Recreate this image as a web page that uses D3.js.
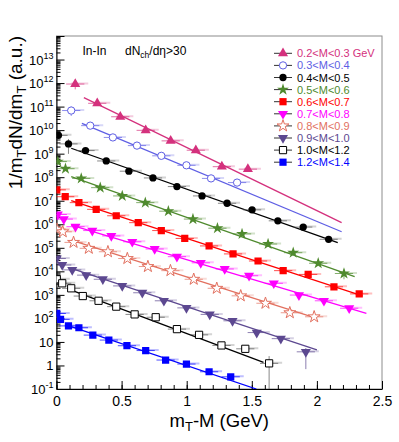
<!DOCTYPE html>
<html>
<head>
<meta charset="utf-8">
<script src="https://cdn.jsdelivr.net/npm/d3@7"></script>
<style>
  html, body { margin: 0; padding: 0; background: #fff; }
  svg { display: block; font-family: "Liberation Sans", Arial, Helvetica, sans-serif; }
</style>
</head>
<body>
<svg id="chart" width="399" height="442"></svg>
<script>
// ---------------- DATA ----------------
const seriesNames = ["0.2<M<0.3 GeV","0.3<M<0.4","0.4<M<0.5","0.5<M<0.6","0.6<M<0.7",
                     "0.7<M<0.8","0.8<M<0.9","0.9<M<1.0","1.0<M<1.2","1.2<M<1.4"];

const x_s1 = [0.144,0.313,0.49,0.685,0.877,1.07,1.27,1.47];
const y_s1 = [9.1e11,1.38e11,3.7e10,9.8e9,3.5e9,1.4e9,2.8e8,2.2e8];

const x_s2 = [0.113,0.259,0.433,0.618,0.805,0.998,1.187,1.387];
const y_s2 = [6.8e10,1.55e10,4.9e9,2.2e9,8.1e8,3.2e8,8.9e7,5.9e7];

const x_s3 = [0.015,0.092,0.223,0.382,0.556,0.741,0.925,1.118,1.31,1.502,1.70,1.895,2.09];
const y_s3 = [6.0e9,2.6e9,1.35e9,4.9e8,1.8e8,9.3e7,4.0e7,1.6e7,7.8e6,4.1e6,1.4e6,7.6e5,2.3e5];

const x_s4 = [0.01,0.069,0.19,0.336,0.505,0.682,0.859,1.048,1.236,1.425,1.625,1.818,2.01,2.208];
const y_s4 = [4.6e8,2.3e8,8.9e7,3.6e7,1.6e7,8.3e6,3.6e6,1.66e6,6.8e5,3.9e5,1.45e5,6.2e4,2.2e4,8.1e3];

const x_s5 = [0.002,0.067,0.172,0.305,0.459,0.628,0.805,0.985,1.172,1.356,1.548,1.741,1.933,2.131,2.325];
const y_s5 = [2.9e7,1.48e7,8.3e6,4.3e6,2.3e6,1.17e6,5.4e5,2.5e5,1.2e5,5.5e4,2.75e4,1.07e4,7.4e3,2.2e3,1.1e3];

const x_s6 = [0.01,0.056,0.146,0.275,0.421,0.582,0.754,0.925,1.108,1.292,1.479,1.669,1.862,2.054,2.248];
const y_s6 = [2.6e6,1.66e6,7.9e5,5.4e5,3.2e5,1.8e5,8.9e4,4.2e4,2.3e4,1.26e4,6.5e3,3.1e3,980,560,270];

const x_s7 = [0.003,0.048,0.131,0.248,0.395,0.544,0.702,0.875,1.054,1.231,1.415,1.605,1.792,1.979];
const y_s7 = [6.2e5,4.8e5,1.7e5,9.5e4,6.8e4,3.5e4,1.6e4,1.07e4,4.6e3,1.9e3,910,440,174,117];

const x_s8 = [0.002,0.044,0.121,0.228,0.356,0.505,0.659,0.825,0.998,1.177,1.352,1.538,1.723,1.915];
const y_s8 = [3.5e4,1.86e4,1.15e4,6.9e3,4.6e3,2.4e3,1.23e3,560,280,148,79,25,13.8,3.8];

const x_s9 = [0.002,0.044,0.113,0.202,0.323,0.459,0.6,0.762,0.925,1.095,1.267,1.45,1.633];
const y_s9 = [4.6e3,3.1e3,1.9e3,890,560,316,148,112,35,20,7.1,5.1,1.23];

const x_s10 = [0.002,0.031,0.092,0.172,0.279,0.402,0.541,0.685,0.838,0.998,1.172,1.338];
const y_s10 = [162,91,48,40,19.5,12,6.9,4.3,1.7,1.15,0.54,0.33];

// vertical error bars (low, high) for the points where they are visible: [series, point, low, high]
const yErrors = [
  [0, 0, 5.4e11, 1.1e12],
  [1, 0, 4.0e10, 1.0e11],
  [2, 1, 9.8e8, 4.2e9],
  [3, 0, 3.4e8, 6.0e8],
  [3, 13, 4.6e3, 1.2e4],
  [7, 13, 0.7, 5.5],
  [8, 12, 0.02, 2.5]
];
const xHalfWidth = 0.07;

// exponential fits: start x, start y, end x, end y
const fitX0 = [0.21, 0.195, 0.113, 0.113, 0.113, 0.113, 0.113, 0.113, 0.113, 0.113];
const fitY0 = [2.4e11, 1.95e10, 1.7e9, 1.05e8, 1.0e7, 9.3e5, 2.1e5, 1.35e4, 1.6e3, 45];
const fitX1 = [2.19, 2.19, 2.16, 2.29, 2.35, 2.38, 2.0, 2.0, 1.59, 1.535];
const fitY1 = [1.17e6, 4.8e5, 1.66e5, 5.9e3, 910, 162, 100, 4.6, 1.35, 0.1];

const xTickValues = [0, 0.5, 1, 1.5, 2, 2.5];
const xTickLabels = ["0", "0.5", "1", "1.5", "2", "2.5"];
const yTickExps = [-1,0,1,2,3,4,5,6,7,8,9,10,11,12,13];

// ---------------- STYLE ----------------
const colors = ["#d4317d","#5e5ee4","#000000","#4f8a2e","#ff0000","#ff00ff","#e2705f","#5c4890","#000000","#0000ff"];
const shapes = ["triUp","circle","circle","star","square","triDown","star","triDown","square","square"];
const filled = [true,false,true,true,true,true,false,true,false,true];

const allX = [x_s1,x_s2,x_s3,x_s4,x_s5,x_s6,x_s7,x_s8,x_s9,x_s10];
const allY = [y_s1,y_s2,y_s3,y_s4,y_s5,y_s6,y_s7,y_s8,y_s9,y_s10];

// ---------------- LAYOUT ----------------
const L = 56.5, R = 382, T = 36, B = 389;
const svg = d3.select("#chart");
const x = d3.scaleLinear().domain([0, 2.5]).range([L, R]);
const y = d3.scaleLog().domain([0.1, 1e14]).range([B, T]);

svg.append("defs").append("clipPath").attr("id","clip")
  .append("rect").attr("x",L).attr("y",T).attr("width",R-L).attr("height",B-T);

// frame (top/right)
svg.append("rect").attr("x",L).attr("y",T).attr("width",R-L).attr("height",B-T)
  .attr("fill","none").attr("stroke","#8c8c8c").attr("stroke-width",1);

// ---------------- AXES ----------------
const xMinor = d3.range(0, 2.5001, 0.1);
svg.append("g").attr("transform",`translate(0,${B})`)
  .call(d3.axisBottom(x).tickValues(xMinor).tickSize(-4).tickFormat(""))
  .call(g => g.select(".domain").remove());
const xAxis = svg.append("g").attr("transform",`translate(0,${B})`)
  .call(d3.axisBottom(x).tickValues(xTickValues).tickSize(-8).tickSizeOuter(0)
        .tickFormat((d,i) => xTickLabels[i]).tickPadding(5));
xAxis.selectAll("text").attr("font-size", 14).attr("fill","#000")
  .attr("font-family",'"Liberation Sans", Arial, sans-serif').attr("dy","0.85em");
xAxis.selectAll("line,path").attr("stroke","#000");

const yMinorVals = [];
for (let k = -1; k < 14; k++) for (let m = 2; m <= 9; m++) yMinorVals.push(m * Math.pow(10, k));
svg.append("g").attr("transform",`translate(${L},0)`)
  .call(d3.axisLeft(y).tickValues(yMinorVals).tickSize(-4).tickFormat(""))
  .call(g => g.select(".domain").remove());
const yMajorVals = yTickExps.map(e => Math.pow(10, e)).concat([1e14]);
const yAxis = svg.append("g").attr("transform",`translate(${L},0)`)
  .call(d3.axisLeft(y).tickValues(yMajorVals).tickSize(-8).tickSizeOuter(0).tickFormat(""));
yAxis.selectAll("line,path").attr("stroke","#000");

const yLab = svg.append("g").attr("font-size", 13).attr("text-anchor","end");
yTickExps.forEach(e => {
  const t = yLab.append("text").attr("x", L - 3).attr("y", y(Math.pow(10, e)) + 5);
  if (e === 0) { t.text("1"); }
  else if (e === 1) { t.text("10"); }
  else {
    t.append("tspan").text("10");
    t.append("tspan").attr("font-size", 9).attr("dy", -6).text(String(e));
  }
});

const xt = svg.append("text").attr("x", (L + R) / 2).attr("y", 427)
  .attr("text-anchor","middle").attr("font-size", 18.5);
xt.append("tspan").text("m");
xt.append("tspan").attr("font-size", 13).attr("dy", 4).text("T");
xt.append("tspan").attr("dy", -4).text("-M (GeV)");

const yt = svg.append("text").attr("transform", `translate(22,${T}) rotate(-90)`)
  .attr("text-anchor","end").attr("font-size", 19);
yt.append("tspan").text("1/m");
yt.append("tspan").attr("font-size", 13).attr("dy", 4).text("T");
yt.append("tspan").attr("dy", -4).text("dN/dm");
yt.append("tspan").attr("font-size", 13).attr("dy", 4).text("T");
yt.append("tspan").attr("dy", -4).text(" (a.u.)");

// ---------------- MARKERS ----------------
function symPath(shape) {
  switch (shape) {
    case "circle": return d3.symbol(d3.symbolCircle, 42)();
    case "square": return d3.symbol(d3.symbolSquare, 52)();
    case "star": return d3.symbol(d3.symbolStar, 44)();
    default: return d3.symbol(d3.symbolTriangle, 44)();
  }
}
function drawMarker(g, px, py, i) {
  const p = g.append("path").attr("d", symPath(shapes[i]))
    .attr("transform", `translate(${px},${py})` + (shapes[i] === "triDown" ? " rotate(180)" : ""));
  if (filled[i]) p.attr("fill", colors[i]).attr("stroke", "none");
  else p.attr("fill", "#fff").attr("stroke", colors[i]).attr("stroke-width", 1);
  return p;
}

const plot = svg.append("g").attr("clip-path","url(#clip)");

allX.forEach((xs, i) => {
  plot.append("line")
    .attr("x1", x(fitX0[i])).attr("y1", y(fitY0[i]))
    .attr("x2", x(fitX1[i])).attr("y2", y(fitY1[i]))
    .attr("stroke", colors[i]).attr("stroke-width", 1.3);
});

allX.forEach((xs, i) => {
  const ys = allY[i];
  const g = plot.append("g");
  const barCol = (colors[i] === "#000000") ? "#555" : colors[i];
  xs.forEach((xv, j) => {
    const py = y(ys[j]);
    g.append("line").attr("x1", x(xv - 0.03)).attr("x2", x(xv + xHalfWidth + 0.03))
      .attr("y1", py - 0.5).attr("y2", py - 0.5)
      .attr("stroke", barCol).attr("stroke-opacity", 0.25).attr("stroke-width", 2);
    g.append("line").attr("x1", x(xv - xHalfWidth)).attr("x2", x(xv + xHalfWidth))
      .attr("y1", py).attr("y2", py)
      .attr("stroke", barCol).attr("stroke-opacity", 0.7).attr("stroke-width", 1);
  });
  yErrors.filter(e => e[0] === i).forEach(e => {
    const px = x(xs[e[1]]);
    g.append("line").attr("x1", px).attr("x2", px)
      .attr("y1", y(e[2])).attr("y2", y(e[3]))
      .attr("stroke", barCol).attr("stroke-opacity", 0.7).attr("stroke-width", 1);
  });
  xs.forEach((xv, j) => drawMarker(g, x(xv), y(ys[j]), i));
});

// ---------------- LABELS ----------------
svg.append("text").attr("x", 82.5).attr("y", 55).attr("font-size", 12).text("In-In");
const lab2 = svg.append("text").attr("x", 125).attr("y", 55).attr("font-size", 12);
lab2.append("tspan").text("dN");
lab2.append("tspan").attr("font-size", 8.5).attr("dy", 3).text("ch");
lab2.append("tspan").attr("dy", -3).text("/dη>30");

const leg = svg.append("g");
seriesNames.forEach((name, i) => {
  const cy = 53.3 + i * 12.1;
  leg.append("line").attr("x1", 274).attr("x2", 292).attr("y1", cy).attr("y2", cy)
    .attr("stroke", "#333").attr("stroke-width", 1);
  drawMarker(leg, 283, cy, i);
  leg.append("text").attr("x", 297).attr("y", cy + 4).attr("font-size", 11)
    .attr("fill", colors[i]).text(name);
});
</script>
</body>
</html>
